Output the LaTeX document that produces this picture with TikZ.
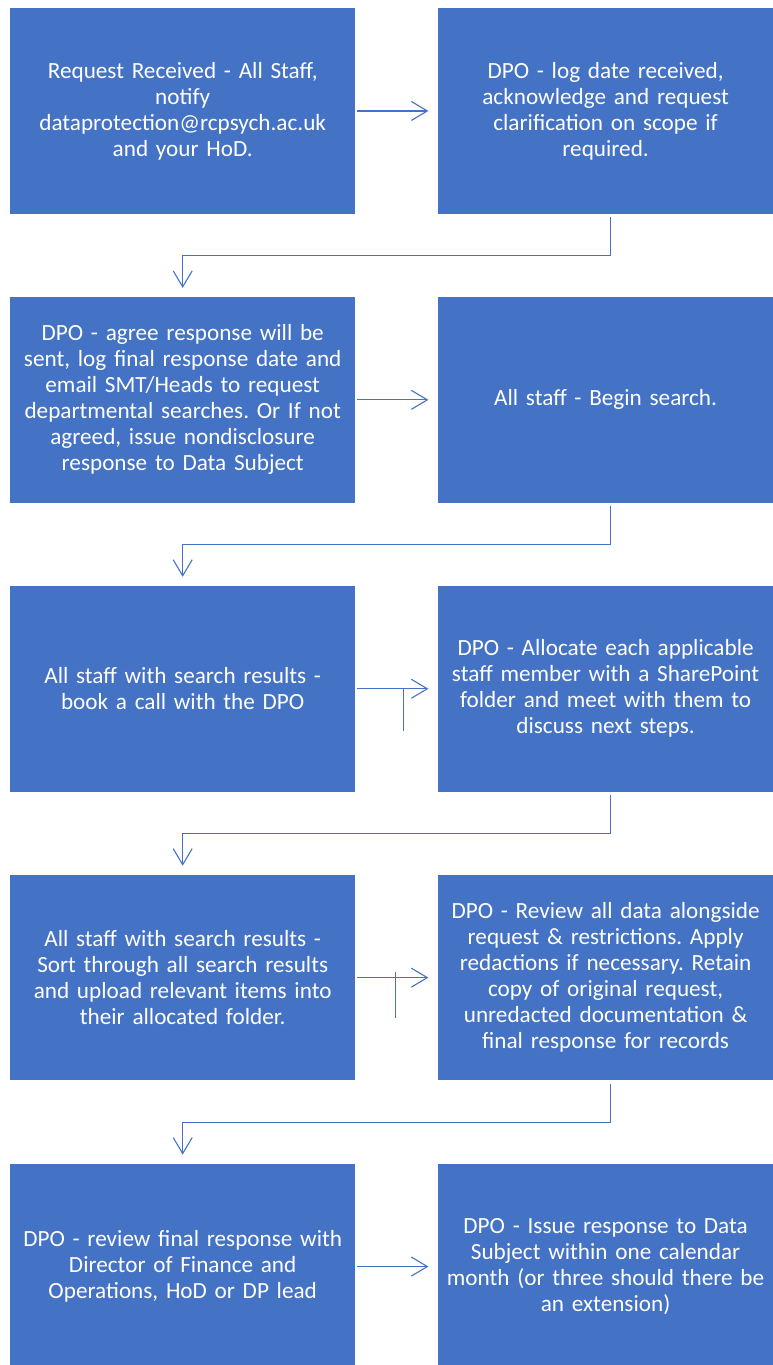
\documentclass[tikz,border=0pt]{standalone}
\usepackage{fontspec}
\setmainfont{Carlito}
\usepackage{tikz}
\usetikzlibrary{arrows.meta}
\usetikzlibrary{positioning}
\definecolor{boxblue}{RGB}{68, 114, 196}
\frenchspacing
\tikzset{
	stepbox/.style={rectangle, fill=boxblue, text=white, align=center,
		minimum width=345pt, minimum height=205.5pt, text width=345pt, inner sep=0pt,
		font=\fontsize{23.2}{26}\selectfont},
	stepboxr/.style={stepbox, minimum width=336pt, text width=336pt},
	flow/.style={draw=boxblue, line width=1.1pt, -{Straight Barb[length=16pt, width=19pt, line width=1.1pt]}},
	flowline/.style={draw=boxblue, line width=1.1pt}
}
\begin{document}
\begin{tikzpicture}[x=1pt, y=1pt]
	\path[use as bounding box, clip] (0,0) rectangle (773,-1365);

	\node[stepbox, anchor=north west] (l1) at (10,-8)
		{Request Received - All Staff,\\ notify\\ dataprotection@rcpsych.ac.uk\\ and your HoD.};
	\node[stepboxr, right=82pt of l1] (r1)
		{DPO - log date received,\\ acknowledge and request\\ clarification on scope if\\ required.};

	\node[stepbox, below=83pt of l1] (l2)
		{DPO - agree response will be\\ sent, log final response date and\\ email SMT/Heads to request\\ departmental searches. Or If not\\ agreed, issue nondisclosure\\ response to Data Subject};
	\node[stepboxr, right=82pt of l2] (r2) {All staff - Begin search.};

	\node[stepbox, below=83pt of l2] (l3)
		{All staff with search results -\\ book a call with the DPO};
	\node[stepboxr, right=82pt of l3] (r3)
		{DPO - Allocate each applicable\\ staff member with a SharePoint\\ folder and meet with them to\\ discuss next steps.};

	\node[stepbox, below=83pt of l3] (l4)
		{All staff with search results -\\ Sort through all search results\\ and upload relevant items into\\ their allocated folder.};
	\node[stepboxr, right=82pt of l4] (r4)
		{DPO - Review all data alongside\\ request \& restrictions. Apply\\ redactions if necessary. Retain\\ copy of original request,\\ unredacted documentation \&\\ final response for records};

	\node[stepbox, below=83pt of l4] (l5)
		{DPO - review final response with\\ Director of Finance and\\ Operations, HoD or DP lead};
	\node[stepboxr, right=82pt of l5] (r5)
		{DPO - Issue response to Data\\ Subject within one calendar\\ month (or three should there be\\ an extension)};

	% across
	\foreach \row in {1,...,5}
		\draw[flow, shorten <=2pt, shorten >=9pt] (l\row.east) -- (r\row.west);

	% down to next row
	\foreach \row [evaluate=\row as \nxt using int(\row+1)] in {1,...,4}
		\draw[flow, shorten >=9pt] ([xshift=5pt, yshift=-3pt]r\row.south) -- ++(0,-39) -| (l\nxt.north);

	% stray ticks
	\draw[flowline] ([xshift=48pt]l3.east) -- ++(0,-42);
	\draw[flowline] ([xshift=40pt, yshift=6pt]l4.east) -- ++(0,-46);
\end{tikzpicture}
\end{document}
